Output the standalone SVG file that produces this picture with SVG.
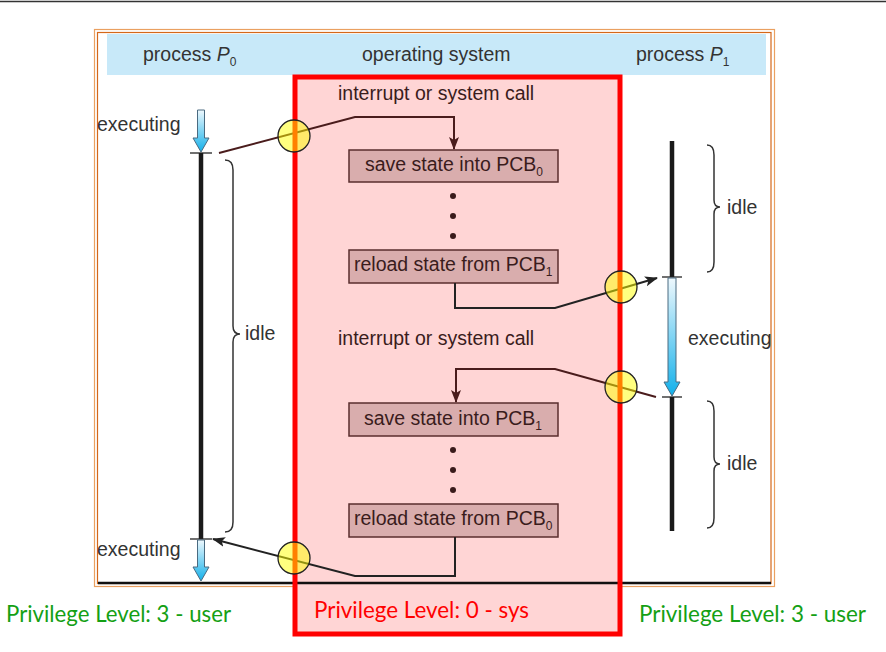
<svg xmlns="http://www.w3.org/2000/svg" width="886" height="652" viewBox="0 0 886 652">
<style>
.lbl{font-family:"Liberation Sans",Arial,sans-serif;font-size:19.5px;fill:#333}
.os{font-family:"Liberation Sans",Arial,sans-serif;font-size:19.5px;fill:#3a1c1c}
.sub{font-size:12px}
.box{fill:#d9adad;stroke:#5a2e2e;stroke-width:1.5}
.conn{fill:none;stroke:#4a1c1c;stroke-width:2}
.conn2{fill:none;stroke:#222;stroke-width:2}
.brace{fill:none;stroke:#333;stroke-width:1.5}
.tl{stroke:#1a1a1a;stroke-width:4.5}
.tick{stroke:#222;stroke-width:1.3}
.exe{fill:url(#blue);stroke:#4a6a80;stroke-width:1}
.sw{fill:#ffff00;fill-opacity:0.5;stroke:#222;stroke-width:1.3}
.dot{fill:#3a1c1c}
.priv{font-family:Lato,"Open Sans",sans-serif;font-size:24px}
</style>
<defs>
<linearGradient id="blue" x1="0" y1="0" x2="0" y2="1">
<stop offset="0" stop-color="#eef8fd"/>
<stop offset="1" stop-color="#12b0ea"/>
</linearGradient>
<marker id="ah" markerUnits="userSpaceOnUse" markerWidth="14" markerHeight="12" refX="12" refY="5" orient="auto">
<path d="M0,0 L13,5 L0,10 L3,5 Z" fill="#4a1c1c"/>
</marker>
<marker id="ahk" markerUnits="userSpaceOnUse" markerWidth="14" markerHeight="12" refX="12" refY="5" orient="auto">
<path d="M0,0 L13,5 L0,10 L3,5 Z" fill="#222"/>
</marker>
</defs>

<line x1="0" y1="1.5" x2="886" y2="1.5" stroke="#333" stroke-width="1.5"/>

<g id="frame">
<rect x="94.5" y="29.5" width="680" height="557" fill="#fff" stroke="#eaa060" stroke-width="1.2"/>
<rect x="97.5" y="32.5" width="673.5" height="551" fill="#fff" stroke="#d4681a" stroke-width="1.2"/>
<rect x="107" y="34" width="659" height="41" fill="#c8e9f9"/>
</g>

<g id="os-region-fill">
<rect x="295" y="77" width="325" height="557" fill="#ffd5d5"/>
</g>
<line x1="98" y1="583" x2="771" y2="583" stroke="#111" stroke-width="2.5"/>

<g id="headers">
<text class="lbl" x="143" y="61">process <tspan font-style="italic">P</tspan><tspan class="sub" dy="5">0</tspan></text>
<text class="lbl" x="362" y="61">operating system</text>
<text class="lbl" x="636" y="61">process <tspan font-style="italic">P</tspan><tspan class="sub" dy="5">1</tspan></text>
</g>

<g id="p0">
<path class="exe" d="M197.5,110 L204.5,110 L204.5,138 L209,138 L201,152 L193,138 L197.5,138 Z"/>
<line class="tick" x1="190" y1="153" x2="212" y2="153"/>
<line class="tl" x1="201" y1="153" x2="201" y2="539"/>
<line class="tick" x1="190" y1="539" x2="212" y2="539"/>
<path class="exe" d="M197.5,540 L204.5,540 L204.5,567 L209,567 L201,581 L193,567 L197.5,567 Z"/>
<path class="brace" d="M225,160 Q233,160 233,170 L233,326 Q233,334 240,334 Q233,334 233,342 L233,522 Q233,532 225,532"/>
<text class="lbl" x="97" y="131">executing</text>
<text class="lbl" x="245" y="340">idle</text>
<text class="lbl" x="97" y="556">executing</text>
</g>

<g id="p1">
<line class="tl" x1="672" y1="141" x2="672" y2="277"/>
<line class="tick" x1="662" y1="277" x2="682" y2="277"/>
<path class="exe" d="M668,278 L676,278 L676,382 L680,382 L672,396 L664,382 L668,382 Z"/>
<line class="tick" x1="662" y1="397" x2="682" y2="397"/>
<line class="tl" x1="672" y1="397" x2="672" y2="531"/>
<path class="brace" d="M707,145 Q714,145 714,155 L714,200 Q714,207 720,207 Q714,207 714,214 L714,262 Q714,272 707,272"/>
<path class="brace" d="M707,401 Q714,401 714,411 L714,457 Q714,464 720,464 Q714,464 714,471 L714,518 Q714,528 707,528"/>
<text class="lbl" x="727" y="214">idle</text>
<text class="lbl" x="688" y="345">executing</text>
<text class="lbl" x="727" y="470">idle</text>
</g>

<g id="os">
<text class="os" x="338" y="100">interrupt or system call</text>
<g id="save0">
<rect class="box" x="349" y="150" width="209" height="32"/>
<text class="os" x="365" y="171">save state into PCB<tspan class="sub" dy="5">0</tspan></text>
</g>
<circle class="dot" cx="453" cy="196" r="3"/>
<circle class="dot" cx="453" cy="216" r="3"/>
<circle class="dot" cx="453" cy="236" r="3"/>
<g id="reload1">
<rect class="box" x="349" y="250" width="209" height="33"/>
<text class="os" x="354" y="271">reload state from PCB<tspan class="sub" dy="5">1</tspan></text>
</g>
<text class="os" x="338" y="345">interrupt or system call</text>
<g id="save1">
<rect class="box" x="349" y="403" width="209" height="33"/>
<text class="os" x="364" y="425">save state into PCB<tspan class="sub" dy="5">1</tspan></text>
</g>
<circle class="dot" cx="453" cy="450" r="3"/>
<circle class="dot" cx="453" cy="470" r="3"/>
<circle class="dot" cx="453" cy="490" r="3"/>
<g id="reload0">
<rect class="box" x="349" y="504" width="209" height="33"/>
<text class="os" x="354" y="525">reload state from PCB<tspan class="sub" dy="5">0</tspan></text>
</g>
</g>

<g id="connectors">
<path class="conn" d="M219,153 L355,117 L454,117 L454,149" marker-end="url(#ah)"/>
<path class="conn2" d="M455,283 L455,308 L555,308 L657,278" marker-end="url(#ahk)"/>
<path class="conn" d="M656,397 L555,369 L456,369 L456,402" marker-end="url(#ah)"/>
<path class="conn2" d="M455,537 L455,576 L355,576 L213,539" marker-end="url(#ahk)"/>
</g>

<rect x="295" y="77" width="325" height="557" fill="none" stroke="#ff0000" stroke-width="5"/>

<g id="switches">
<circle class="sw" cx="294" cy="136" r="16"/>
<circle class="sw" cx="621" cy="287" r="16"/>
<circle class="sw" cx="621" cy="387" r="16"/>
<circle class="sw" cx="294" cy="558" r="16"/>
</g>

<g id="privilege">
<text class="priv" x="6" y="622" fill="#14a014" textLength="225" lengthAdjust="spacingAndGlyphs">Privilege Level: 3 - user</text>
<text class="priv" x="314" y="618" fill="#ff0000" textLength="215" lengthAdjust="spacingAndGlyphs">Privilege Level: 0 - sys</text>
<text class="priv" x="639" y="622" fill="#14a014" textLength="227" lengthAdjust="spacingAndGlyphs">Privilege Level: 3 - user</text>
</g>
</svg>
